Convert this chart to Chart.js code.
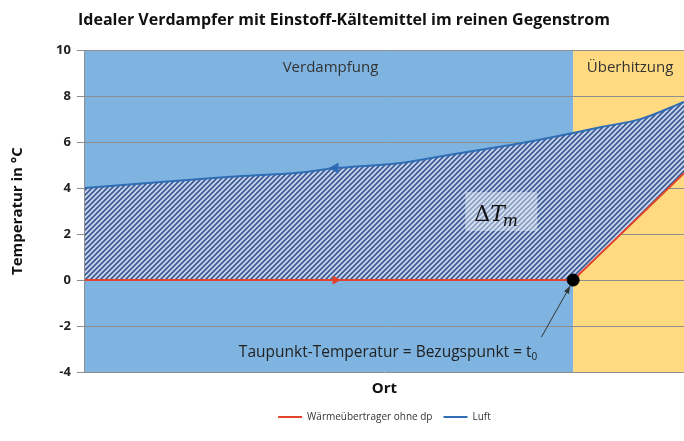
<!DOCTYPE html>
<html>
<head>
<meta charset="utf-8">
<script src="https://cdn.jsdelivr.net/npm/chart.js@4.4.1/dist/chart.umd.min.js"></script>
<style>
	html, body { margin: 0; padding: 0; background: #fff; }
	#wrap { width: 684px; height: 441px; }
</style>
</head>
<body>
<div id="wrap"><canvas id="mycanvas" width="684" height="441"></canvas></div>
<script>
// Ort (0..1 ueber die Laenge) und Temperaturen in °C
var ortKaelte = [0, 0.418, 0.815, 1.0];
var tempKaelte = [0, 0, 0, 4.65];

var ortLuft = [0, 0.127, 0.243, 0.36, 0.418, 0.527, 0.61, 0.693, 0.727, 0.815, 0.86, 0.927, 1.0];
var tempLuft = [4.0, 4.27, 4.49, 4.68, 4.87, 5.09, 5.45, 5.8, 5.95, 6.4, 6.65, 7.0, 7.75];

var yTicks = [-4, -2, 0, 2, 4, 6, 8, 10];
var grenzeOrt = 0.815; // Taupunkt / Beginn Ueberhitzung
var pfeilIndex = 1;    // Punkt mit Richtungspfeil (Kaeltemittel)
var pfeilIndexLuft = 4;

function toPoints(xs, ys) {
	var pts = [];
	for (var i = 0; i < xs.length; i++) {
		pts.push({ x: xs[i], y: ys[i] });
	}
	return pts;
}

// Schraffur fuer Delta T
var tile = document.createElement('canvas');
tile.width = 5;
tile.height = 5;
var tc = tile.getContext('2d');
tc.fillStyle = '#c9d8ee';
tc.fillRect(0, 0, 5, 5);
tc.strokeStyle = '#3d5a94';
tc.lineWidth = 1.7;
tc.beginPath();
tc.moveTo(-1, 6); tc.lineTo(6, -1);
tc.moveTo(-1, 1); tc.lineTo(1, -1);
tc.moveTo(4, 6); tc.lineTo(6, 4);
tc.stroke();
var hatch = tc.createPattern(tile, 'repeat');

var bereiche = {
	id: 'bereiche',
	beforeDraw: function(chart) {
		var ctx = chart.ctx;
		var a = chart.chartArea;
		var xg = chart.scales.x.getPixelForValue(grenzeOrt);
		ctx.save();
		ctx.fillStyle = '#7fb4e0';
		ctx.fillRect(a.left, a.top, xg - a.left, a.bottom - a.top);
		ctx.fillStyle = '#ffda80';
		ctx.fillRect(xg, a.top, a.right - xg, a.bottom - a.top);
		ctx.restore();
	},
	afterDatasetsDraw: function(chart) {
		var ctx = chart.ctx;
		var xs = chart.scales.x;
		var ys = chart.scales.y;
		ctx.save();
		ctx.fillStyle = '#333';
		ctx.font = '15px "Open Sans"';
		ctx.textAlign = 'center';
		ctx.textBaseline = 'middle';
		ctx.fillText('Verdampfung', xs.getPixelForValue(0.41), ys.getPixelForValue(9.25));
		ctx.fillText('Überhitzung', xs.getPixelForValue(0.91), ys.getPixelForValue(9.25));

		// Delta T_m Kasten
		var bx = xs.getPixelForValue(0.695);
		var by = ys.getPixelForValue(2.96);
		ctx.fillStyle = 'rgba(235,242,250,0.45)';
		ctx.fillRect(bx - 36, by - 20, 72, 39);
		ctx.fillStyle = '#111';
		ctx.textAlign = 'left';
		ctx.textBaseline = 'alphabetic';
		ctx.font = '22px "DejaVu Serif"';
		ctx.fillText('Δ', bx - 27, by + 9);
		var w = ctx.measureText('Δ').width;
		ctx.font = 'italic 22px "DejaVu Serif"';
		ctx.fillText('T', bx - 27 + w, by + 9);
		var w2 = ctx.measureText('T').width;
		ctx.font = 'italic 16px "DejaVu Serif"';
		ctx.fillText('m', bx - 29 + w + w2, by + 14);

		// Taupunkt Beschriftung
		ctx.font = '15.5px "Open Sans"';
		ctx.fillStyle = '#222';
		var tx = xs.getPixelForValue(0.257);
		var ty = ys.getPixelForValue(-3.35);
		var txt = 'Taupunkt-Temperatur = Bezugspunkt = t';
		ctx.fillText(txt, tx, ty);
		var tw = ctx.measureText(txt).width;
		ctx.font = '10px "Open Sans"';
		ctx.fillText('0', tx + tw, ty + 3);

		// Pfeil zum Taupunkt
		var x0 = xs.getPixelForValue(0.762), y0 = ys.getPixelForValue(-2.48);
		var x1 = xs.getPixelForValue(grenzeOrt) - 3, y1 = ys.getPixelForValue(0) + 6;
		var ang = Math.atan2(y1 - y0, x1 - x0);
		ctx.strokeStyle = '#333';
		ctx.lineWidth = 1;
		ctx.beginPath();
		ctx.moveTo(x0, y0);
		ctx.lineTo(x1, y1);
		ctx.stroke();
		ctx.fillStyle = '#333';
		ctx.beginPath();
		ctx.moveTo(x1, y1);
		ctx.lineTo(x1 - 8 * Math.cos(ang - 0.35), y1 - 8 * Math.sin(ang - 0.35));
		ctx.lineTo(x1 - 8 * Math.cos(ang + 0.35), y1 - 8 * Math.sin(ang + 0.35));
		ctx.closePath();
		ctx.fill();
		ctx.restore();
	}
};

var ctx = document.getElementById('mycanvas');

var Graph = new Chart(ctx, {
	type: 'line',
	data: {
		datasets: [
			{
				label: 'Wärmeübertrager ohne dp',
				data: toPoints(ortKaelte, tempKaelte),
				borderColor: '#e2432a',
				backgroundColor: '#e2432a',
				borderWidth: 2,
				fill: false,
				pointStyle: function(c) { return c.dataIndex === pfeilIndex ? 'triangle' : 'circle'; },
				rotation: function(c) { return c.dataIndex === pfeilIndex ? 90 : 0; },
				pointRadius: function(c) {
					if (c.dataIndex === pfeilIndex) return 4.5;
					if (c.dataIndex === 2) return 6;
					return 0;
				},
				pointBackgroundColor: function(c) { return c.dataIndex === 2 ? '#000' : '#e2432a'; },
				pointBorderColor: function(c) { return c.dataIndex === 2 ? '#000' : '#e2432a'; },
				pointBorderWidth: 1,
				order: 0
			},
			{
				label: 'Luft',
				data: toPoints(ortLuft, tempLuft),
				borderColor: '#2f6db5',
				backgroundColor: hatch,
				borderWidth: 2,
				fill: 0,
				cubicInterpolationMode: 'monotone',
				pointStyle: 'triangle',
				rotation: -90,
				pointRadius: function(c) { return c.dataIndex === pfeilIndexLuft ? 4.5 : 0; },
				pointBackgroundColor: '#2f6db5',
				pointBorderColor: '#2f6db5',
				order: 1
			}
		]
	},
	options: {
		responsive: false,
		animation: false,
		layout: { padding: { left: 4, right: 0, top: 0, bottom: 9 } },
		plugins: {
			title: {
				display: true,
				text: 'Idealer Verdampfer mit Einstoff-Kältemittel im reinen Gegenstrom',
				color: '#111',
				font: { family: 'Open Sans', size: 16, weight: 'bold' },
				padding: { top: 11, bottom: 20 }
			},
			legend: {
				position: 'bottom',
				fullSize: false,
				labels: {
					usePointStyle: true,
					pointStyleWidth: 24,
					color: '#333',
					font: { family: 'Open Sans', size: 10 },
					padding: 11,
					generateLabels: function(chart) {
						var items = Chart.defaults.plugins.legend.labels.generateLabels(chart);
						items.forEach(function(it) {
							it.pointStyle = 'line';
							it.rotation = 0;
							it.lineWidth = 2;
						});
						return items;
					}
				}
			},
			tooltip: { enabled: false }
		},
		scales: {
			x: {
				type: 'linear',
				min: 0,
				max: 1,
				ticks: { display: false },
				grid: { display: false },
				border: { display: false },
				title: {
					display: true,
					text: 'Ort',
					color: '#111',
					font: { family: 'Open Sans', size: 15, weight: 'bold' },
					padding: { top: 0, bottom: 3 }
				}
			},
			y: {
				min: -4,
				max: 10,
				afterBuildTicks: function(scale) {
					scale.ticks = yTicks.map(function(v) { return { value: v }; });
				},
				ticks: {
					color: '#222',
					font: { family: 'Open Sans', size: 13, weight: 'bold' },
					padding: 6
				},
				grid: { color: '#8e8e8e', tickLength: 8, lineWidth: 1 },
				border: { color: '#8e8e8e' },
				title: {
					display: true,
					text: 'Temperatur in °C',
					color: '#111',
					font: { family: 'Open Sans', size: 15, weight: 'bold' },
					padding: { top: 5, bottom: 23 }
				}
			}
		}
	},
	plugins: [bereiche]
});
</script>
</body>
</html>
